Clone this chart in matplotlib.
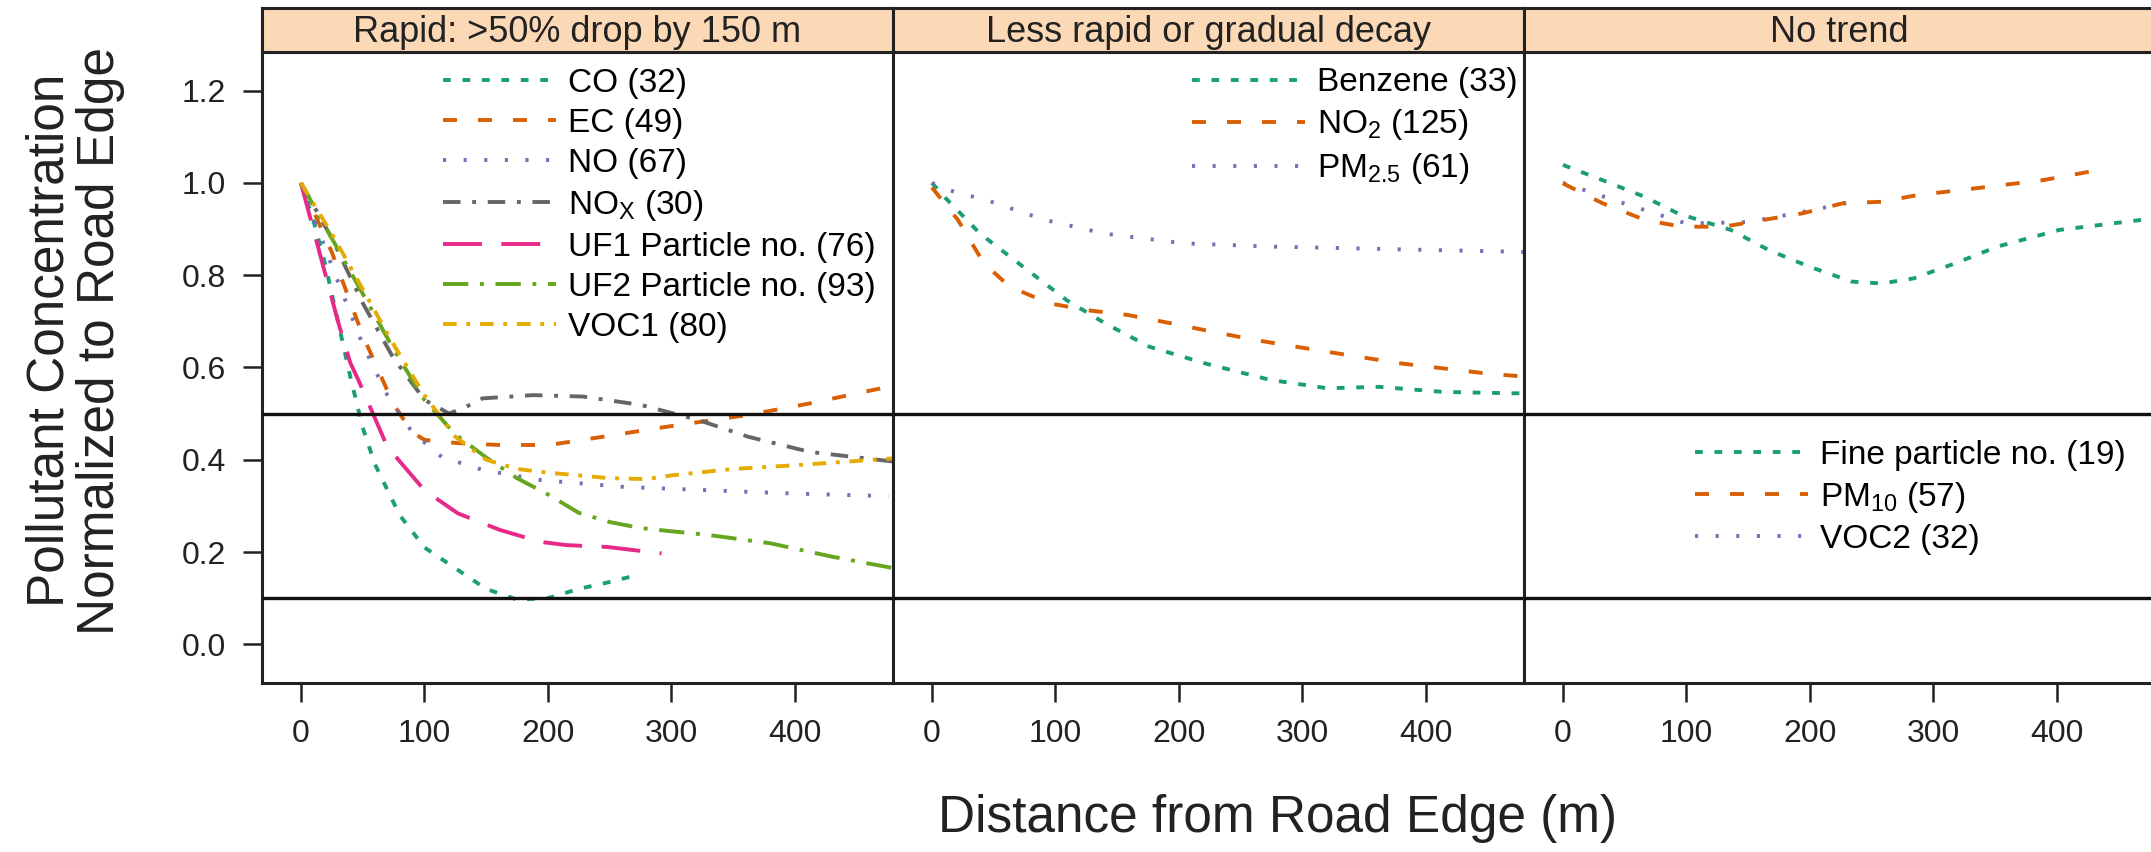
import numpy as np
import matplotlib.pyplot as plt

plt.rcParams['font.family'] = ['Liberation Sans', 'DejaVu Sans']
plt.rcParams['mathtext.fontset'] = 'custom'
plt.rcParams['mathtext.rm'] = 'Liberation Sans'
plt.rcParams['mathtext.it'] = 'Liberation Sans:italic'

panel_titles = ['Rapid: >50% drop by 150 m', 'Less rapid or gradual decay', 'No trend']

# ---- Rapid: >50% drop by 150 m ----
co_x = [0, 10, 20, 30, 40, 50, 60, 80, 100, 125, 150, 175, 200, 225, 250, 275]
co_y = [1.0, 0.92, 0.82, 0.70, 0.58, 0.47, 0.39, 0.28, 0.21, 0.165, 0.12, 0.097, 0.10, 0.12, 0.135, 0.152]

ec_x = [0, 25, 50, 75, 90, 100, 127, 161, 201, 245, 295, 362, 412, 463, 480]
ec_y = [1.0, 0.85, 0.67, 0.52, 0.46, 0.443, 0.436, 0.432, 0.432, 0.45, 0.471, 0.497, 0.522, 0.551, 0.56]

no_x = [0, 25, 50, 70, 90, 114, 147, 194, 262, 329, 396, 476]
no_y = [1.0, 0.82, 0.65, 0.54, 0.46, 0.406, 0.378, 0.356, 0.341, 0.334, 0.327, 0.321]

nox_x = [0, 25, 50, 75, 100, 120, 134, 147, 188, 228, 275, 322, 362, 412, 480]
nox_y = [1.0, 0.88, 0.74, 0.62, 0.53, 0.50, 0.515, 0.533, 0.54, 0.537, 0.519, 0.486, 0.45, 0.417, 0.396]

uf1_x = [0, 10, 20, 30, 40, 47, 70, 100, 127, 161, 194, 215, 248, 292]
uf1_y = [1.0, 0.90, 0.80, 0.70, 0.61, 0.57, 0.428, 0.334, 0.284, 0.248, 0.222, 0.215, 0.211, 0.197]

uf2_x = [0, 25, 50, 75, 100, 125, 150, 175, 200, 225, 250, 275, 300, 330, 380, 430, 480]
uf2_y = [1.0, 0.88, 0.76, 0.64, 0.53, 0.455, 0.405, 0.36, 0.325, 0.285, 0.265, 0.252, 0.245, 0.237, 0.219, 0.19, 0.165]

voc1_x = [0, 25, 50, 75, 100, 125, 150, 175, 200, 250, 280, 300, 350, 400, 480]
voc1_y = [1.0, 0.89, 0.77, 0.65, 0.54, 0.45, 0.40, 0.38, 0.372, 0.36, 0.358, 0.366, 0.38, 0.388, 0.403]

# ---- Less rapid or gradual decay ----
benz_x = [0, 10, 39, 74, 109, 140, 176, 221, 274, 320, 362, 414, 470, 480]
benz_y = [1.0, 0.97, 0.89, 0.818, 0.746, 0.696, 0.645, 0.609, 0.573, 0.555, 0.558, 0.547, 0.544, 0.544]

no2_x = [0, 21, 42, 63, 95, 126, 158, 193, 228, 263, 320, 379, 449, 480]
no2_y = [0.99, 0.92, 0.826, 0.775, 0.739, 0.724, 0.714, 0.696, 0.677, 0.659, 0.634, 0.609, 0.587, 0.58]

pm25_x = [0, 14, 45, 91, 140, 204, 274, 344, 414, 470, 480]
pm25_y = [1.0, 0.984, 0.962, 0.92, 0.89, 0.869, 0.862, 0.858, 0.854, 0.851, 0.85]

# ---- No trend ----
fine_x = [0, 32, 66, 93, 136, 167, 200, 234, 258, 284, 318, 352, 402, 469, 480]
fine_y = [1.039, 1.006, 0.97, 0.934, 0.898, 0.854, 0.818, 0.786, 0.782, 0.793, 0.826, 0.862, 0.898, 0.92, 0.922]

pm10_x = [0, 32, 66, 96, 130, 163, 194, 227, 258, 288, 321, 355, 389, 426, 432]
pm10_y = [0.999, 0.956, 0.92, 0.905, 0.905, 0.92, 0.934, 0.956, 0.959, 0.974, 0.984, 0.995, 1.006, 1.024, 1.027]

voc2_x = [0, 50, 100, 150, 200, 240]
voc2_y = [1.0, 0.955, 0.912, 0.915, 0.94, 0.962]

dark2 = ['#1B9E77', '#D95F02', '#7570B3', '#666666', '#E7298A', '#66A61E', '#E6AB02']
styles = [(0, (2.0, 3.0)), (0, (3.6, 5.4)), (0, (0.8, 4.5)), (0, (4.5, 3, 1, 3)),
          (0, (10, 5)), (0, (6.5, 3, 1, 3)), (0, (3.5, 2.5, 1, 2.5))]

panels = [
    [(co_x, co_y, 'CO (32)'), (ec_x, ec_y, 'EC (49)'), (no_x, no_y, 'NO (67)'),
     (nox_x, nox_y, r'NO$_\mathregular{X}$ (30)'), (uf1_x, uf1_y, 'UF1 Particle no. (76)'),
     (uf2_x, uf2_y, 'UF2 Particle no. (93)'), (voc1_x, voc1_y, 'VOC1 (80)')],
    [(benz_x, benz_y, 'Benzene (33)'), (no2_x, no2_y, r'NO$_\mathregular{2}$ (125)'),
     (pm25_x, pm25_y, r'PM$_\mathregular{2.5}$ (61)')],
    [(fine_x, fine_y, 'Fine particle no. (19)'), (pm10_x, pm10_y, r'PM$_\mathregular{10}$ (57)'),
     (voc2_x, voc2_y, 'VOC2 (32)')],
]
legend_anchor = [(0.206, 0.920), (0.554, 0.921), (0.788, 0.484)]

fig = plt.figure(figsize=(21.51, 8.52), dpi=100)

x_left = [262 / 2151, 893 / 2151, 1524 / 2151]
pw = 631 / 2151
bottom = 1 - 683.3 / 852
top = 1 - 52.3 / 852
strip_top = 1 - 8.3 / 852

fs_tick = 23
fs_legend = 24
fs_strip = 26
fs_label = 37
spine_w = 2.2
line_w = 2.8

for i in range(3):
    ax = fig.add_axes([x_left[i], bottom, pw, top - bottom])
    n = len(panels[i])
    for j, (xs, ys, lab) in enumerate(panels[i]):
        ax.plot(xs, ys, color=dark2[j], ls=styles[j], lw=line_w, label=lab,
                dash_capstyle='butt', zorder=3 + (n - j) * 0.1 if i == 2 else 3)
    ax.axhline(0.5, color='#111111', lw=2.4, zorder=5)
    ax.axhline(0.1, color='#111111', lw=2.4, zorder=5)
    ax.set_xlim(-31.5, 479.5)
    ax.set_ylim(-0.0845, 1.283)
    ax.set_xticks([0, 100, 200, 300, 400])
    ax.tick_params(axis='x', direction='out', length=14, width=1.8, pad=12,
                   labelsize=fs_tick, colors='#222222')
    if i == 0:
        ax.set_yticks([0, 0.2, 0.4, 0.6, 0.8, 1.0, 1.2])
        ax.set_yticklabels(['0.0', '0.2', '0.4', '0.6', '0.8', '1.0', '1.2'])
        ax.tick_params(axis='y', direction='out', length=14, width=1.8, pad=12,
                       labelsize=fs_tick, colors='#222222')
    else:
        ax.set_yticks([])
    for sp in ax.spines.values():
        sp.set_linewidth(spine_w)
        sp.set_color('#222222')
    ax.legend(loc='upper left', bbox_to_anchor=legend_anchor[i],
              bbox_transform=fig.transFigure, frameon=False, fontsize=fs_legend,
              borderpad=0, handlelength=3.4, handletextpad=0.35,
              labelspacing=0.27, borderaxespad=0)

    sax = fig.add_axes([x_left[i], top, pw, strip_top - top])
    sax.set_facecolor('#fbd9b7')
    sax.set_xticks([])
    sax.set_yticks([])
    for sp in sax.spines.values():
        sp.set_linewidth(spine_w)
        sp.set_color('#222222')
    sax.text(0.5, 0.45, panel_titles[i], ha='center', va='center',
             fontsize=fs_strip, color='#222222', transform=sax.transAxes)

fig.text(0.035, 0.60, 'Pollutant Concentration\nNormalized to Road Edge', rotation=90,
         ha='center', va='center', fontsize=fs_label, linespacing=1.05, color='#222222')
fig.text(0.5937, 0.0235, 'Distance from Road Edge (m)', ha='center', va='baseline',
         fontsize=fs_label, color='#222222')

fig.savefig('out.png', dpi=100, facecolor='white')
